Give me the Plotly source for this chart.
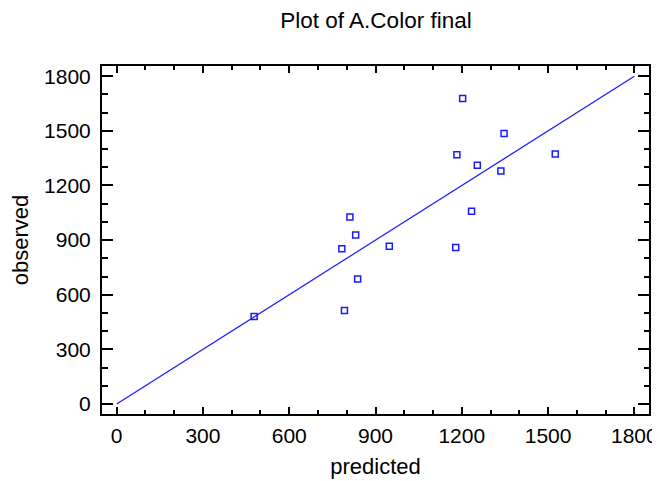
import plotly.graph_objects as go

predicted = [478, 811, 831, 783, 838, 792, 948, 1203, 1347, 1183, 1254, 1336, 1525, 1234, 1179]
observed = [481, 1027, 928, 853, 687, 514, 866, 1677, 1485, 1368, 1311, 1280, 1373, 1058, 860]
line_x = [0, 1800]
line_y = [0, 1800]
tick_vals = [0, 300, 600, 900, 1200, 1500, 1800]
tick_text = ["0", "300", "600", "900", "1200", "1500", "1800"]

FONT = "Liberation Sans, Arial, sans-serif"
BLUE = "#1a1aff"

# page body has an 8px default margin; figure sized to fill the rest of the window
W, H = 652, 473

fig = go.Figure()
fig.add_trace(go.Scatter(x=line_x, y=line_y, mode="lines",
                         line=dict(color=BLUE, width=1.2), hoverinfo="skip"))
fig.add_trace(go.Scatter(x=predicted, y=observed, mode="markers",
                         marker=dict(symbol="square-open", size=6, color=BLUE,
                                     line=dict(width=1.5, color=BLUE))))

axis_common = dict(showgrid=False, zeroline=False, showline=True, linecolor="black",
                   linewidth=2, mirror="allticks", ticks="inside", tickcolor="black",
                   tickwidth=2, tickfont=dict(family=FONT, size=21, color="black"),
                   tickvals=tick_vals, ticktext=tick_text, automargin=False,
                   ticklabeloverflow="allow")

fig.update_layout(
    width=W, height=H,
    margin=dict(l=94, r=11, t=58, b=67),
    paper_bgcolor="white", plot_bgcolor="white",
    showlegend=False,
    title=dict(text="Plot of A.Color final", x=368/W, xanchor="center",
               y=1 - 12/H, yanchor="middle", yref="container",
               font=dict(family=FONT, size=22.5, color="black")),
    xaxis=dict(range=[-51, 1851], ticklen=7, ticklabelstandoff=2,
               minor=dict(ticks="inside", ticklen=4, tickwidth=2, tickcolor="black", dtick=100, tick0=0),
               title=dict(text="predicted", font=dict(family=FONT, size=22, color="black"), standoff=12),
               **axis_common),
    yaxis=dict(range=[-55, 1856], ticklen=11, ticklabelstandoff=5,
               minor=dict(ticks="inside", ticklen=5.5, tickwidth=2, tickcolor="black", dtick=100, tick0=0),
               title=dict(text="observed", font=dict(family=FONT, size=22, color="black"), standoff=9),
               **axis_common),
)

fig.write_html("out.html")
